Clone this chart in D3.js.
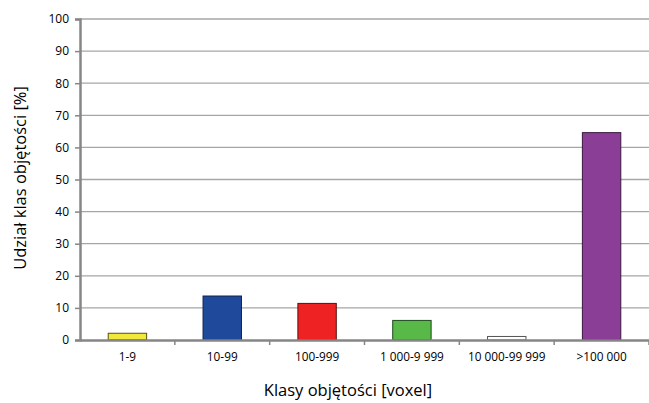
<!DOCTYPE html>
<html><head><meta charset="utf-8">
<script src="https://cdn.jsdelivr.net/npm/d3@7"></script>
<style>body{margin:0;background:#fff}svg{display:block}text{font-family:"Open Sans","Liberation Sans",sans-serif;fill:#000}</style>
</head><body><svg id="c" width="649" height="403"></svg>
<script>
const categories = ["1-9","10-99","100-999","1 000-9 999","10 000-99 999",">100 000"];
const values = [2.1, 13.7, 11.4, 6.1, 1.1, 64.6];
const fills = ["#f0e83c","#1f4a9c","#ee2222","#58b848","#ffffff","#8b3e96"];
const strokes = ["#5a5010","#0f2050","#5a1010","#1f4a1f","#555555","#3a1840"];
const yTicks = [0,10,20,30,40,50,60,70,80,90,100];

const svg = d3.select("#c");
const x = d3.scaleBand().domain(categories).range([80, 649]).padding(0);
const y = d3.scaleLinear().domain([0,100]).range([340, 19]);

svg.append("g").selectAll("line").data(yTicks.filter(d=>d>0)).join("line")
  .attr("x1",80).attr("x2",649).attr("y1",d=>y(d)).attr("y2",d=>y(d))
  .attr("stroke","#a6a6a6").attr("stroke-width",1.3);

const bw = x.bandwidth()*0.405;
svg.append("g").selectAll("rect").data(values).join("rect")
  .attr("x",(d,i)=>x(categories[i])+x.bandwidth()/2-bw/2)
  .attr("width",bw)
  .attr("y",d=>y(d)).attr("height",d=>y(0)-y(d))
  .attr("fill",(d,i)=>fills[i]).attr("stroke",(d,i)=>strokes[i]).attr("stroke-width",1);

const ya = svg.append("g").attr("transform","translate(80,0)")
  .call(d3.axisLeft(y).tickValues(yTicks).tickSize(5).tickPadding(6));
ya.select(".domain").attr("stroke","#868686").attr("stroke-width",2.5);
ya.selectAll(".tick line").attr("stroke","#868686").attr("stroke-width",1.5);
ya.selectAll(".tick text").attr("font-size",12).attr("font-family",null);

const xa = svg.append("g").attr("transform","translate(0,340)")
  .call(d3.axisBottom(x).tickSize(0).tickPadding(13));
xa.select(".domain").attr("stroke","#868686").attr("stroke-width",2.5);
xa.selectAll(".tick text").attr("font-size",11.8).attr("font-family",null);
svg.append("g").selectAll("line").data(categories).join("line")
  .attr("x1",d=>x(d)+x.bandwidth()).attr("x2",d=>x(d)+x.bandwidth())
  .attr("y1",340).attr("y2",345).attr("stroke","#868686").attr("stroke-width",1.5);

svg.append("text").attr("x",348).attr("y",396).attr("text-anchor","middle")
  .attr("font-size",16.5).text("Klasy objętości [voxel]");
svg.append("text").attr("transform","translate(26,178) rotate(-90)").attr("text-anchor","middle")
  .attr("font-size",16.5).text("Udział klas objętości [%]");
</script></body></html>
